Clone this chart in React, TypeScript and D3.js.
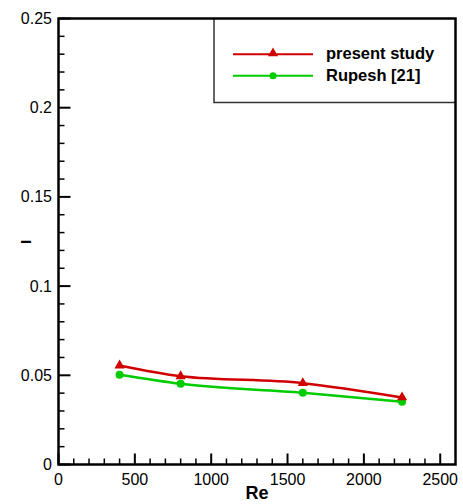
import React from "react";
import * as d3 from "d3";

const reValues = [400, 800, 1600, 2250];
const presentStudy = [0.0555, 0.0495, 0.0456, 0.0376];
const rupesh = [0.0503, 0.0452, 0.0402, 0.0352];
const xTicks = [0, 500, 1000, 1500, 2000, 2500];
const yTicks = [0, 0.05, 0.1, 0.15, 0.2, 0.25];
const seriesNames = ["present study", "Rupesh [21]"];

const W = 463;
const H = 504;
const left = 58.5;
const right = 455.5;
const top = 18.5;
const bottom = 464.5;
const RED = "#d10000";
const GREEN = "#00cc00";
const FONT = "Liberation Sans, Arial, sans-serif";

export default function App() {
  const x = d3.scaleLinear().domain([0, 2600]).range([left, right]);
  const y = d3.scaleLinear().domain([0, 0.25]).range([bottom, top]);

  const xMinor = d3.range(0, 2600, 100).filter((v) => v % 500 !== 0);
  const yMinor = d3.range(0, 25).map((i) => i / 100).filter((_, i) => i % 5 !== 0);

  const line = d3
    .line<[number, number]>()
    .x((d) => x(d[0]))
    .y((d) => y(d[1]))
    .curve(d3.curveMonotoneX);

  const redPts = reValues.map((r, i) => [r, presentStudy[i]] as [number, number]);
  const greenPts = reValues.map((r, i) => [r, rupesh[i]] as [number, number]);

  const tri = d3.symbol().type(d3.symbolTriangle).size(45)();

  const legX0 = 214;
  const legY1 = 102.5;
  const legRows = [54.3, 75.7];

  return (
    <div style={{ position: "absolute", left: 0, top: 0 }}>
      <svg width={W} height={H} style={{ display: "block" }} fontFamily={FONT}>
        <rect width={W} height={H} fill="white" />

        {/* minor ticks */}
        {xMinor.map((v) => (
          <line key={"xm" + v} x1={x(v)} x2={x(v)} y1={bottom} y2={bottom - 6} stroke="black" strokeWidth={1.5} />
        ))}
        {yMinor.map((v) => (
          <line key={"ym" + v} x1={left} x2={left + 6} y1={y(v)} y2={y(v)} stroke="black" strokeWidth={1.5} />
        ))}
        {/* major ticks */}
        {xTicks.map((v) => (
          <line key={"xM" + v} x1={x(v)} x2={x(v)} y1={bottom} y2={bottom - 11} stroke="black" strokeWidth={2} />
        ))}
        {yTicks.map((v) => (
          <line key={"yM" + v} x1={left} x2={left + 12} y1={y(v)} y2={y(v)} stroke="black" strokeWidth={2} />
        ))}

        {/* legend box */}
        <polyline
          points={`${legX0},${top} ${legX0},${legY1} ${right},${legY1}`}
          fill="none"
          stroke="#333"
          strokeWidth={1.5}
        />

        {/* frame */}
        <rect x={left} y={top} width={right - left} height={bottom - top} fill="none" stroke="black" strokeWidth={2.5} />

        {/* tick labels */}
        {xTicks.map((v) => (
          <text key={"xl" + v} x={x(v)} y={485} textAnchor="middle" fontSize={16}>
            {v}
          </text>
        ))}
        {yTicks.map((v) => (
          <text key={"yl" + v} x={52} y={y(v) + 5.5} textAnchor="end" fontSize={16}>
            {v === 0 ? "0" : String(v)}
          </text>
        ))}

        {/* axis titles */}
        <text x={(left + right) / 2} y={499} textAnchor="middle" fontSize={18} fontWeight="bold">
          Re
        </text>
        <text transform={`translate(31,242) rotate(-90)`} textAnchor="middle" fontSize={15} fontWeight="bold">
          I
        </text>

        {/* series */}
        <path d={line(greenPts) || ""} fill="none" stroke={GREEN} strokeWidth={2.5} />
        <path d={line(redPts) || ""} fill="none" stroke={RED} strokeWidth={2.5} />
        {greenPts.map((p, i) => (
          <circle key={"g" + i} cx={x(p[0])} cy={y(p[1])} r={4} fill={GREEN} />
        ))}
        {redPts.map((p, i) => (
          <path key={"r" + i} d={tri || ""} transform={`translate(${x(p[0])},${y(p[1])})`} fill={RED} />
        ))}

        {/* legend entries */}
        {seriesNames.map((name, i) => {
          const c = i === 0 ? RED : GREEN;
          const ly = legRows[i];
          return (
            <g key={name}>
              <line x1={233} x2={313} y1={ly} y2={ly} stroke={c} strokeWidth={2} />
              {i === 0 ? (
                <path d={tri || ""} transform={`translate(273,${ly - 1})`} fill={c} />
              ) : (
                <circle cx={273} cy={ly} r={3.5} fill={c} />
              )}
              <text x={326} y={ly + 5} fontSize={16.5} fontWeight="bold">
                {name}
              </text>
            </g>
          );
        })}
      </svg>
    </div>
  );
}
